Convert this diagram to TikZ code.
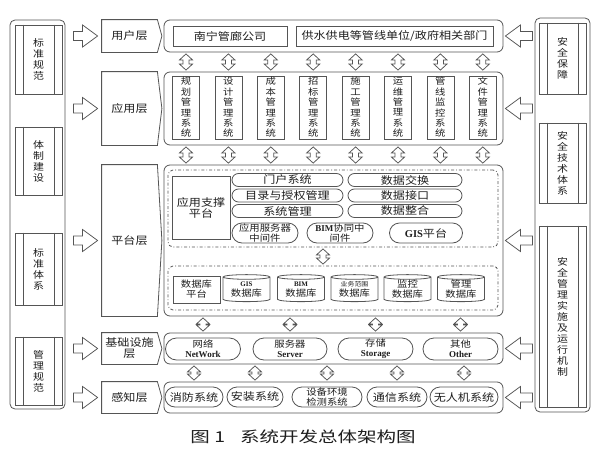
\documentclass[tikz,border=0pt]{standalone}
\usepackage{fontspec}
\setmainfont[FakeStretch=1.15]{Noto Sans CJK SC}
\newfontfamily\capfont[FakeStretch=1.3]{Noto Sans CJK SC}
\newfontfamily\enfont{Liberation Serif}
\usetikzlibrary{shapes.geometric,calc}

\definecolor{linegray}{RGB}{85,85,85}
\definecolor{inkgray}{RGB}{30,30,30}

\newcommand{\hfont}{\fontsize{10.5}{11}\selectfont}
\newcommand{\vfont}{\fontsize{9}{10.4}\selectfont}
\newcommand{\sfont}{\fontsize{9.5}{11}\selectfont}
\newcommand{\tfont}{\fontsize{9}{10}\selectfont}
\newcommand{\en}[1]{{\enfont\bfseries #1}}

\tikzset{every picture/.style={line width=0.8pt}}
\tikzset{
  frame/.style={draw=linegray, rounded corners=5pt, minimum width=55, inner sep=0pt},
  sidebox/.style={draw=linegray, minimum width=47, inner sep=0pt, text=inkgray, align=center, font=\sfont},
  layer/.style={minimum width=55, inner sep=0pt, text=inkgray, align=center, font=\hfont},
  rowbox/.style={draw=linegray, rounded corners=6pt, minimum width=339, inner sep=0pt},
  namebox/.style={draw=linegray, minimum height=20, inner sep=0pt, text=inkgray, font=\hfont},
  sysbox/.style={draw=linegray, minimum width=27, minimum height=63, inner sep=0pt, text=inkgray, align=center, font=\vfont},
  dashbox/.style={draw=linegray, dash dot, rounded corners=5pt, minimum width=330, inner sep=0pt},
  pill/.style={draw=linegray, rounded corners=6.5pt, minimum height=13, inner sep=0pt, text=inkgray, align=center, font=\hfont},
  tallpill/.style={pill, rounded corners=10pt, minimum height=20, font=\tfont},
  dbcyl/.style={cylinder, shape border rotate=90, aspect=0.15, draw=linegray, minimum width=47, minimum height=27, inner sep=0pt, text=inkgray, align=center, font=\tfont},
  hollow/.style={draw=linegray, fill=white, line width=0.75pt},
}

% double bars inside the side boxes
\newcommand{\sidebars}[1]{%
  \draw[linegray] ($(#1.north west)+(8.5,0)$) -- ($(#1.south west)+(8.5,0)$)
    ($(#1.north east)+(-8.5,0)$) -- ($(#1.south east)+(-8.5,0)$);}
% layer label outline, pointed on the right
\newcommand{\layeredge}[1]{%
  \draw[linegray] (#1.north west) -- (#1.north east) -- ($(#1.east)+(4.5,0)$) -- (#1.south east) -- (#1.south west) -- cycle;}
% hollow up-down arrow between two rows, at the x of a node
\newcommand{\updown}[3]{%
  \coordinate (t) at (#1.center |- #2.south);
  \coordinate (b) at (#1.center |- #3.north);
  \draw[hollow] ($(t)+(0,1.5)$) -- ++(6.5,6) -- ++(-3.5,0) -- ($(b)+(3,-7.5)$) -- ++(3.5,0) -- ($(b)+(0,-1.5)$) -- ++(-6.5,-6) -- ++(3.5,0) -- ($(t)+(-3,7.5)$) -- ++(-3.5,0) -- cycle;}
% hollow arrows from the side columns
\newcommand{\pushright}[2]{%
  \coordinate (s) at (#1.east |- #2.west);
  \draw[hollow] ($(s)+(8,-4.5)$) -- ($(#2.west)+(-19,-4.5)$) -- ++(0,-6.5) -- ($(#2.west)+(-4,0)$) -- ($(#2.west)+(-19,11)$) -- ++(0,-6.5) -- ($(s)+(8,4.5)$) -- cycle;}
\newcommand{\pushleft}[2]{%
  \coordinate (s) at (#1.west |- #2.east);
  \draw[hollow] ($(s)+(-2,-4.5)$) -- ($(#2.east)+(17,-4.5)$) -- ++(0,-6.5) -- ($(#2.east)+(2,0)$) -- ($(#2.east)+(17,11)$) -- ++(0,-6.5) -- ($(s)+(-2,4.5)$) -- cycle;}

\begin{document}
\begin{tikzpicture}[x=1pt,y=1pt,yscale=-1]
  \fill[white] (0,0) rectangle (600,450);
  \useasboundingbox (0,0) rectangle (600,450);

  % left and right columns
  \node[frame, minimum height=389] (lframe) at (37.5,214.5) {};
  \node[frame, minimum height=394] (rframe) at (562.5,215) {};
  \node[sidebox, minimum height=69] (stdnorm) at (38.5,59.5) {标\\准\\规\\范};
  \node[sidebox, minimum height=68] (system) at (38.5,161) {体\\制\\建\\设};
  \node[sidebox, minimum height=72] (stdsys) at (38.5,269) {标\\准\\体\\系};
  \node[sidebox, minimum height=68] (mgtnorm) at (38.5,371) {管\\理\\规\\范};
  \node[sidebox, minimum height=71] (secure) at (562.5,58.5) {安\\全\\保\\障};
  \node[sidebox, minimum height=80] (sectech) at (562.5,163) {安\\全\\技\\术\\体\\系};
  \node[sidebox, minimum height=181] (secmgt) at (562.5,316.5) {安\\全\\管\\理\\实\\施\\及\\运\\行\\机\\制};
  \foreach \n in {stdnorm,system,stdsys,mgtnorm,secure,sectech,secmgt} {\sidebars{\n}}

  % layer labels
  \node[layer, minimum height=32] (ulbl) at (129.5,36) {用户层};
  \node[layer, minimum height=73] (albl) at (129.5,108.5) {应用层};
  \node[layer, minimum height=151] (plbl) at (129.5,240.5) {平台层};
  \node[layer, minimum height=31] (ilbl) at (129.5,348.5) {基础设施\\层};
  \node[layer, minimum height=31] (slbl) at (129.5,397.5) {感知层};
  \foreach \n in {ulbl,albl,plbl,ilbl,slbl} {\layeredge{\n}}

  % layer rows
  \node[rowbox, minimum height=32] (urow) at (333.5,36) {};
  \node[rowbox, minimum height=73] (arow) at (333.5,108.5) {};
  \node[rowbox, minimum height=151] (prow) at (333.5,240.5) {};
  \node[rowbox, minimum height=31] (irow) at (333.5,348.5) {};
  \node[rowbox, minimum height=31] (srow) at (333.5,397.5) {};

  % user layer
  \node[namebox, minimum width=114] (nngl) at (230,36) {南宁管廊公司};
  \node[namebox, minimum width=197] (gsgd) at (394.5,36) {供水供电等管线单位/政府相关部门};

  % application layer
  \foreach \txt [count=\i] in {{规\\划\\管\\理\\系\\统},{设\\计\\管\\理\\系\\统},{成\\本\\管\\理\\系\\统},{招\\标\\管\\理\\系\\统},{施\\工\\管\\理\\系\\统},{运\\维\\管\\理\\系\\统},{管\\线\\监\\控\\系\\统},{文\\件\\管\\理\\系\\统}}
    \node[sysbox] (c\i) at ({143.6+42.4*\i},107.5) {\txt};

  % platform layer
  \node[dashbox, minimum height=77] (supp) at (333,208.5) {};
  \node[dashbox, minimum height=44] (dbs) at (333,288) {};
  \node[draw=linegray, minimum width=58, minimum height=63, inner sep=0pt, text=inkgray, align=center, font=\hfont] (aspf) at (201,207.5) {应用支撑\\平台};
  \node[pill, minimum width=111] (mhxt) at (287.5,180) {门户系统};
  \node[pill, minimum width=111] (mlsq) at (287.5,195.5) {目录与授权管理};
  \node[pill, minimum width=111] (xtgl) at (287.5,211) {系统管理};
  \node[pill, minimum width=114] (sjjh) at (405,180) {数据交换};
  \node[pill, minimum width=114] (sjjk) at (405,195.5) {数据接口};
  \node[pill, minimum width=114] (sjzh) at (405,211) {数据整合};
  \node[tallpill, minimum width=66] (yyfw) at (265,233) {应用服务器\\中间件};
  \node[tallpill, minimum width=66] (bimx) at (340,233) {\en{BIM}协同中\\间件};
  \node[tallpill, minimum width=73, font=\hfont] (gispf) at (426,233) {\en{GIS}平台};
  \coordinate (mid) at (323,256);
  \updown{mid}{supp}{dbs}

  \node[draw=linegray, minimum width=47, minimum height=27, inner sep=0pt, text=inkgray, align=center, font=\tfont] (dbpf) at (196.5,289.5) {数据库\\平台};
  \node[dbcyl] (gisdb) at (246.5,289.5) {{\fontsize{7}{7}\selectfont\en{GIS}}\\数据库};
  \node[dbcyl] (bimdb) at (301,289.5) {{\fontsize{7}{7}\selectfont\en{BIM}}\\数据库};
  \node[dbcyl] (ywdb) at (354.5,289.5) {{\fontsize{6}{7}\selectfont 业务范围}\\数据库};
  \node[dbcyl] (jkdb) at (407.5,289.5) {监控\\数据库};
  \node[dbcyl] (gldb) at (461,289.5) {管理\\数据库};

  % infrastructure layer
  \node[tallpill, minimum width=75, minimum height=22, rounded corners=11pt] (net) at (203,349) {网络\\\en{NetWork}};
  \node[tallpill, minimum width=74, minimum height=22, rounded corners=11pt] (srv) at (290,349) {服务器\\\en{Server}};
  \node[tallpill, minimum width=75, minimum height=22, rounded corners=11pt] (sto) at (375.5,349) {存储\\\en{Storage}};
  \node[tallpill, minimum width=75, minimum height=22, rounded corners=11pt] (oth) at (460.5,349) {其他\\\en{Other}};

  % perception layer
  \node[tallpill, minimum width=58, font=\hfont] (xf) at (194,397) {消防系统};
  \node[tallpill, minimum width=56, font=\hfont] (az) at (255,397) {安装系统};
  \node[tallpill, minimum width=70] (sbhj) at (327,397) {设备环境\\检测系统};
  \node[tallpill, minimum width=60, font=\hfont] (tx) at (397,397) {通信系统};
  \node[tallpill, minimum width=68, font=\hfont] (wrj) at (464,397) {无人机系统};

  % arrows between layers
  \foreach \i in {1,...,8} {\updown{c\i}{urow}{arow} \updown{c\i}{arow}{prow}}
  \foreach \n in {net,srv,sto,oth} {\updown{\n}{prow}{irow}}
  \foreach \n in {xf,az,sbhj,tx,wrj} {\updown{\n}{irow}{srow}}

  % arrows from the side columns
  \foreach \n in {ulbl,albl,plbl,ilbl,slbl} {\pushright{lframe}{\n}}
  \foreach \n in {urow,arow,prow,irow,srow} {\pushleft{rframe}{\n}}

  % caption
  \node[text=inkgray, font=\capfont\fontsize{15}{15}\selectfont] (cap) at (303,437) {图 1\quad 系统开发总体架构图};
\end{tikzpicture}
\end{document}
